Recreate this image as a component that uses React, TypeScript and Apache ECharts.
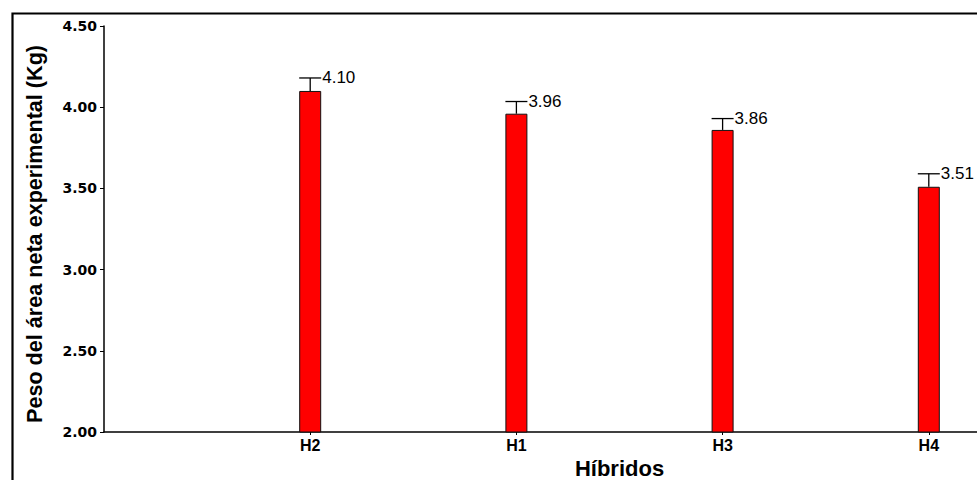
import React, { useEffect, useRef } from "react";
import * as echarts from "echarts";

const categories = ["", "H2", "H1", "H3", "H4", ""];
const means = [null, 4.1, 3.96, 3.86, 3.51, null];
const errors = [null, 0.08, 0.075, 0.07, 0.08, null];
const yMin = 2.0;
const yMax = 4.5;
const yStep = 0.5;

export default function App() {
  const ref = useRef<HTMLDivElement>(null);
  useEffect(() => {
    if (!ref.current) return;
    const chart = echarts.init(ref.current, null, { renderer: "svg" });
    const barData = means.map((v) => (v == null ? "-" : v));
    const errData: any[] = [];
    means.forEach((v, i) => {
      if (v != null) errData.push([i, v, errors[i] as number]);
    });
    chart.setOption({
      animation: false,
      backgroundColor: "#ffffff",
      grid: {
        left: 104,
        top: 26,
        height: 406,
        width: 1031,
        outerBoundsMode: "none",
        containLabel: false,
      },
      xAxis: {
        type: "category",
        data: categories,
        boundaryGap: false,
        name: "Híbridos",
        nameLocation: "middle",
        nameGap: 23,
        nameTextStyle: {
          fontFamily: "Liberation Sans, Arial, sans-serif",
          fontWeight: "bold",
          fontSize: 22,
          color: "#000",
        },
        axisLine: { lineStyle: { color: "#000", width: 1.5 } },
        axisTick: {
          show: true,
          length: 3,
          interval: (idx: number, val: string) => val !== "",
          lineStyle: { color: "#000", width: 1 },
        },
        axisLabel: {
          margin: 5,
          fontFamily: "Liberation Sans, Arial, sans-serif",
          fontWeight: "bold",
          fontSize: 16,
          color: "#000",
          interval: 0,
        },
        splitLine: { show: false },
      },
      yAxis: {
        type: "value",
        min: yMin,
        max: yMax,
        interval: yStep,
        name: "Peso del área neta experimental (Kg)",
        nameLocation: "middle",
        nameGap: 59,
        nameTextStyle: {
          fontFamily: "Liberation Sans, Arial, sans-serif",
          fontWeight: "bold",
          fontSize: 21.6,
          color: "#000",
          padding: [0, 10, 0, 0],
        },
        axisLine: { show: true, lineStyle: { color: "#000", width: 1.5 } },
        axisTick: { show: true, length: 4, lineStyle: { color: "#000", width: 1 } },
        axisLabel: {
          margin: 7,
          fontFamily: "DejaVu Sans, sans-serif",
          fontWeight: "bold",
          fontSize: 14,
          color: "#000",
          formatter: (v: number) => v.toFixed(2),
        },
        splitLine: { show: false },
      },
      graphic: [
        {
          type: "rect",
          left: 10,
          top: 11,
          shape: { width: 2000, height: 2000 },
          style: { fill: "none", stroke: "#000", lineWidth: 2.2 },
          silent: true,
          z: 0,
        },
      ],
      series: [
        {
          type: "bar",
          data: barData,
          barWidth: 22,
          itemStyle: { color: "#ff0000", borderColor: "#111", borderWidth: 1 },
          z: 2,
        },
        {
          type: "custom",
          data: errData,
          z: 3,
          renderItem: (params: any, api: any) => {
            const i = api.value(0);
            const m = api.value(1);
            const e = api.value(2);
            const base = api.coord([i, m]);
            const top = api.coord([i, m + e]);
            const hw = 11;
            return {
              type: "group",
              children: [
                {
                  type: "line",
                  shape: { x1: base[0], y1: base[1], x2: top[0], y2: top[1] },
                  style: { stroke: "#000", lineWidth: 1.3 },
                },
                {
                  type: "line",
                  shape: { x1: top[0] - hw, y1: top[1], x2: top[0] + hw, y2: top[1] },
                  style: { stroke: "#000", lineWidth: 1.3 },
                },
                {
                  type: "text",
                  x: top[0] + hw + 1,
                  y: top[1],
                  style: {
                    text: m.toFixed(2),
                    fill: "#000",
                    fontFamily: "Liberation Sans, Arial, sans-serif",
                    fontSize: 17,
                    verticalAlign: "middle",
                    align: "left",
                  },
                },
              ],
            };
          },
        },
      ],
    });
    return () => chart.dispose();
  }, []);
  return (
    <div
      ref={ref}
      style={{ position: "fixed", left: 0, top: 0, width: 977, height: 480 }}
    />
  );
}
